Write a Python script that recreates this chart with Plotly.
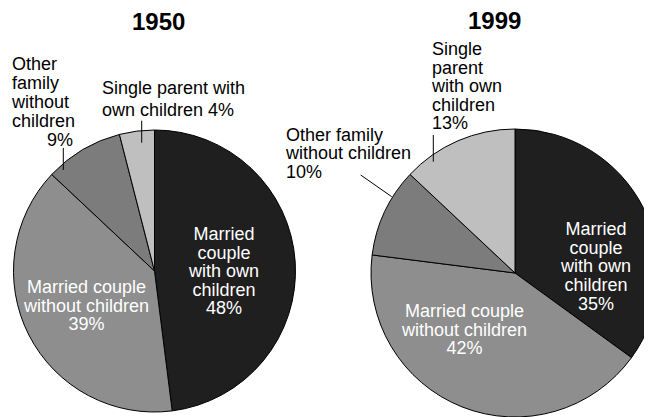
import plotly.graph_objects as go

# ---- data ----
categories = ["Married couple with own children", "Married couple without children",
              "Other family without children", "Single parent with own children"]
values_1950 = [48, 39, 9, 4]
values_1999 = [35, 42, 10, 13]
years = ["1950", "1999"]

colors = ["#1f1f1f", "#8e8e8e", "#7c7c7c", "#bfbfbf"]

W, H = 652, 417
OFF = 8  # page body margin of the browser
FONT = "Liberation Sans, Arial, Helvetica, sans-serif"
NB = "\u00a0"


def px(x):
    return (x - OFF) / W


def py(y):
    return 1 - (y - OFF) / H


fig = go.Figure()
pie_common = dict(
    sort=False, direction="clockwise", rotation=0,
    marker=dict(colors=colors, line=dict(color="#000000", width=1)),
    textinfo="none", hoverinfo="label+percent", showlegend=False,
)
fig.add_trace(go.Pie(labels=categories, values=values_1950,
                     domain=dict(x=[px(13.5), px(295.5)], y=[py(412), py(130)]), **pie_common))
fig.add_trace(go.Pie(labels=categories, values=values_1999,
                     domain=dict(x=[px(371), px(659)], y=[py(417), py(129)]), **pie_common))

annotations = []


def block(lines, x, y0, dy, xanchor="left", color="#000000", size=18):
    """One multi-line annotation; glyphs at `size`, line pitch `dy` (set via base font size)."""
    n = len(lines)
    base = dy / 1.3 if n > 1 else size
    txt = "<br>".join(f'<span style="font-size:{size}px">{ln}</span>' for ln in lines)
    ymid = y0 + (n - 1) * dy / 2
    annotations.append(dict(
        text=txt, x=px(x), y=py(ymid), xref="paper", yref="paper",
        xanchor=xanchor, yanchor="middle", align=xanchor if xanchor != "right" else "right",
        showarrow=False, borderpad=0,
        font=dict(family=FONT, size=base, color=color)))


# titles
block([f"<b>{years[0]}</b>"], 158, 21, 0, xanchor="center", size=24)
block([f"<b>{years[1]}</b>"], 494.5, 20, 0, xanchor="center", size=24)

# 1950 inside labels
block(["Married", "couple", "with own", "children", f"{values_1950[0]}%"], 224, 234, 18.5,
      xanchor="center", color="#ffffff")
block(["Married couple", "without children", f"{values_1950[1]}%"], 86, 287, 18.6,
      xanchor="center", color="#ffffff")
# 1950 outside labels
block(["Other", "family", "without", "children", NB * 7 + f"{values_1950[2]}%"], 10, 64.3, 19.0)
block(["Single parent with", f"own children {values_1950[3]}%"], 101, 88.6, 21.7)

# 1999 inside labels
block(["Married", "couple", "with own", "children", f"{values_1999[0]}%"], 595, 228.6, 18.7,
      xanchor="center", color="#ffffff")
block(["Married couple", "without children", f"{values_1999[1]}%"], 464, 310.6, 18.5,
      xanchor="center", color="#ffffff")
# 1999 outside labels
block(["Single", "parent", "with own", "children", f"{values_1999[3]}%"], 430.3, 48.6, 18.6)
block(["Other family", "without children", f"{values_1999[2]}%"], 284, 135.3, 18.4)

line_style = dict(color="#000000", width=1)
shapes = [
    dict(type="line", x0=px(63.3), y0=py(148), x1=px(63.3), y1=py(170)),
    dict(type="line", x0=px(141.7), y0=py(120.7), x1=px(141.7), y1=py(142.7)),
    dict(type="line", x0=px(433.3), y0=py(135), x1=px(433.3), y1=py(161.7)),
    dict(type="line", x0=px(360.7), y0=py(175), x1=px(391.7), y1=py(196.7)),
]
for s in shapes:
    s.update(xref="paper", yref="paper", line=line_style)

fig.update_layout(
    width=W, height=H, margin=dict(l=0, r=0, t=0, b=0),
    paper_bgcolor="#ffffff", plot_bgcolor="#ffffff",
    font=dict(family=FONT, size=18, color="#000"),
    annotations=annotations, shapes=shapes,
)
fig.write_html("out.html")
